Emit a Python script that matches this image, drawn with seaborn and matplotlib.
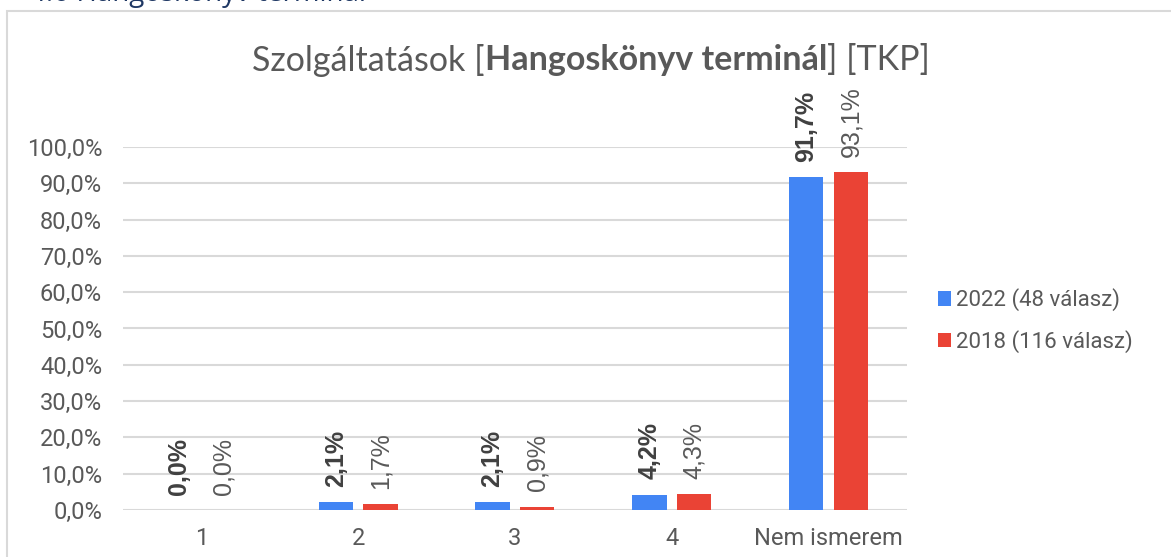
import pandas as pd
import seaborn as sns
import matplotlib.pyplot as plt
from matplotlib.patches import Rectangle

# adatok
categories = ['1', '2', '3', '4', 'Nem ismerem']
series = ['2022 (48 válasz)', '2018 (116 válasz)']
values_2022 = [0.0, 2.1, 2.1, 4.2, 91.7]
values_2018 = [0.0, 1.7, 0.9, 4.3, 93.1]
yticks = [0, 10, 20, 30, 40, 50, 60, 70, 80, 90, 100]
colors = ['#4285F4', '#EA4335']

df = pd.DataFrame({
    'kategoria': categories * 2,
    'ev': [series[0]] * len(categories) + [series[1]] * len(categories),
    'ertek': values_2022 + values_2018,
})

sns.set_theme(style='white')
plt.rcParams['font.family'] = ['Roboto', 'DejaVu Sans']

gray = '#595959'
fig = plt.figure(figsize=(11.71, 5.57), dpi=100)
ax = fig.add_axes([0.105, 0.0844, 0.6695, 0.6517])

sns.barplot(data=df, x='kategoria', y='ertek', hue='ev', palette=colors,
            saturation=1, width=0.57, gap=0.23, edgecolor='none', ax=ax)

ax.set_ylim(0, 100)
ax.set_yticks(yticks)
ax.set_yticklabels([f'{v:.1f}%'.replace('.', ',') for v in yticks])
ax.set_xlabel('')
ax.set_ylabel('')
ax.yaxis.grid(True, color='#D9D9D9', lw=1.5)
ax.set_axisbelow(True)
for s in ax.spines.values():
    s.set_visible(False)
ax.tick_params(axis='y', length=0, pad=15, labelsize=17, labelcolor=gray)
ax.tick_params(axis='x', length=0, pad=12, labelsize=17, labelcolor=gray)

# adatfeliratok
for i, cont in enumerate(ax.containers):
    for bar in cont:
        h = bar.get_height()
        ax.annotate(f'{h:.1f}%'.replace('.', ','),
                    xy=(bar.get_x() + bar.get_width() / 2, h),
                    xytext=(0, 11), textcoords='offset points',
                    rotation=90, ha='center', va='bottom',
                    fontsize=18, color='#404040' if i == 0 else gray,
                    fontweight='bold' if i == 0 else 'normal',
                    family=['Liberation Sans', 'DejaVu Sans'],
                    annotation_clip=False)

handles, labels = ax.get_legend_handles_labels()
ax.legend(handles, labels, loc='center left', bbox_to_anchor=(0.801, 0.424),
          bbox_transform=fig.transFigure, frameon=False, handlelength=0.6,
          handleheight=0.6, handletextpad=0.2, labelspacing=0.85,
          borderpad=0, borderaxespad=0, fontsize=16, labelcolor=gray)

# keret
fig.patches.append(Rectangle((7 / 1171, -0.05), 1.1, (557 - 11) / 557 + 0.05,
                             transform=fig.transFigure, fill=False,
                             edgecolor='#D9D9D9', lw=1.5))

# levágott fejléc fent (a referencián is csak az alja látszik)
fig.text(30 / 1171, 1 - 1 / 557, '4.6 Hangoskönyv terminál', color='#1F3864',
         fontsize=20, family='Open Sans', va='baseline')

# cím, középső rész félkövér
parts = [('Szolgáltatások [', 'normal'), ('Hangoskönyv terminál', 'bold'),
         ('] [TKP]', 'normal')]
renderer = fig.canvas.get_renderer()
texts = []
for txt, w in parts:
    t = fig.text(0, 0.892, txt, fontsize=24.5, fontweight=w, color=gray,
                 family=['Lato', 'DejaVu Sans'], va='center')
    texts.append(t)
widths = [t.get_window_extent(renderer).width for t in texts]
x = 591 - sum(widths) / 2
for t, w in zip(texts, widths):
    t.set_x(x / 1171)
    x += w

fig.savefig('out.png', dpi=100)
